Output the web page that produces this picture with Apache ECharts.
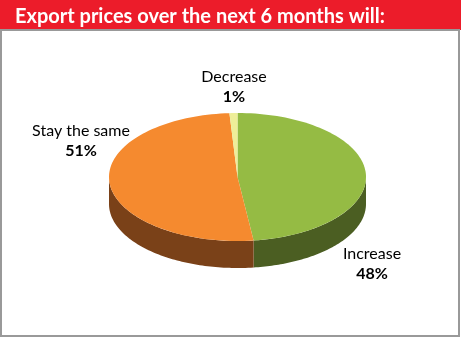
<!DOCTYPE html>
<html>
<head>
<meta charset="utf-8">
<script src="https://cdn.jsdelivr.net/npm/echarts@6/dist/echarts.min.js"></script>
<style>html,body{margin:0;padding:0;background:#fff}#c{width:461px;height:338px}</style>
</head>
<body>
<div id="c"></div>
<script>
// ---- data ----
var categories = ['Increase', 'Stay the same', 'Decrease'];
var values = [48, 51, 1];

// ---- layout / style ----
var topColors = ['#95bb44', '#f58a2f', '#eeee99'];
var sideColors = ['#4b5e22', '#7a4118', '#b0b070'];
var labelPos = [[372, 264], [81, 141], [234, 87]];
var CX = 237.5, CY = 177, RX = 128.5, RY = 64, DEPTH = 27;
var FONT = 'Lato';

var total = values.reduce(function (a, b) { return a + b; }, 0);
var chart = echarts.init(document.getElementById('c'), null, { renderer: 'canvas' });

function arcPts(a, b, dy, n) {
  var pts = [];
  for (var k = 0; k <= n; k++) {
    var t = (a + (b - a) * k / n) * Math.PI / 180;
    pts.push([CX + RX * Math.cos(t), CY + dy + RY * Math.sin(t)]);
  }
  return pts;
}

chart.setOption({
  animation: false,
  title: {
    text: 'Export prices over the next 6 months will:',
    left: 10, top: 2,
    textStyle: { color: '#fff', fontFamily: FONT, fontWeight: 'bold', fontSize: 20 }
  },
  graphic: [
    { type: 'rect', z: -10, shape: { x: 0, y: 0, width: 461, height: 30 }, style: { fill: '#ec1c2a' } },
    { type: 'rect', z: -10, shape: { x: 1, y: 30, width: 458, height: 306 }, style: { fill: 'none', stroke: '#999999', lineWidth: 2 } }
  ],
  series: [{
    type: 'custom',
    coordinateSystem: 'none',
    data: values.map(function (v, i) { return { name: categories[i], value: v }; }),
    renderItem: function (params, api) {
      var i = params.dataIndex;
      var before = 0;
      for (var j = 0; j < i; j++) before += values[j];
      var start = -90 + before / total * 360;
      var end = start + values[i] / total * 360;
      var children = [];
      // side wall (front half: 0..180 deg)
      var a = Math.max(start, 0), b = Math.min(end, 180);
      if (b > a) {
        var up = arcPts(a, b, 0, 80);
        var lo = arcPts(b, a, DEPTH, 80);
        children.push({ type: 'polygon', shape: { points: up.concat(lo) }, style: { fill: sideColors[i] } });
      }
      // top
      var pts = [[CX, CY]].concat(arcPts(start, end, 0, Math.max(4, Math.ceil((end - start) / 2))));
      children.push({ type: 'polygon', shape: { points: pts }, style: { fill: topColors[i] } });
      // label
      children.push({
        type: 'text', z2: 10,
        style: {
          x: labelPos[i][0], y: labelPos[i][1],
          text: '{n|' + categories[i] + '}\n{v|' + values[i] + '%}',
          align: 'center', verticalAlign: 'middle',
          rich: {
            n: { fontFamily: FONT, fontSize: 16, color: '#4d4d4d', lineHeight: 20, align: 'center' },
            v: { fontFamily: FONT, fontSize: 16, fontWeight: 'bold', color: '#231f20', lineHeight: 20, align: 'center' }
          }
        }
      });
      return { type: 'group', children: children };
    }
  }]
});
</script>
</body>
</html>
